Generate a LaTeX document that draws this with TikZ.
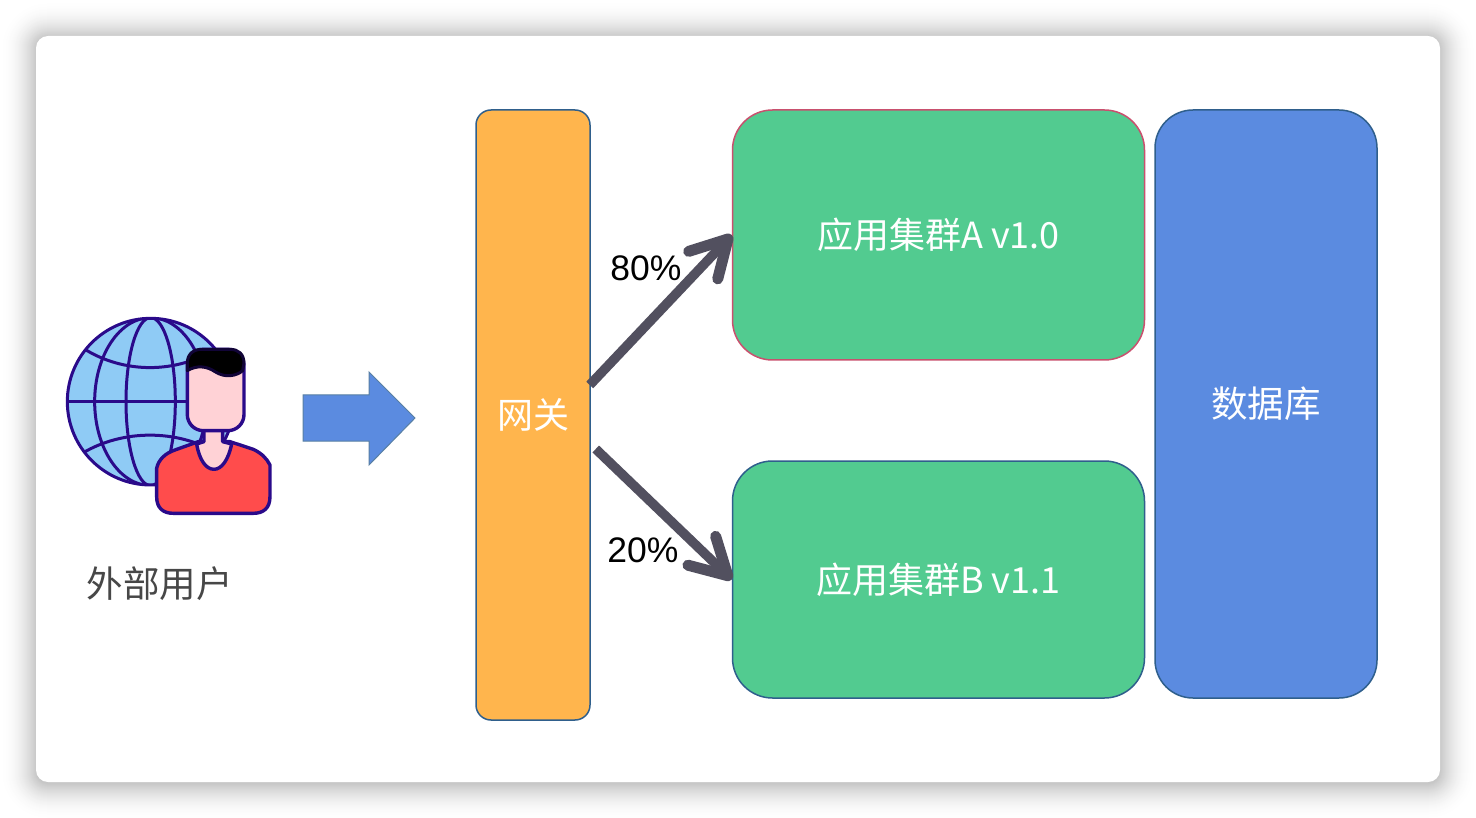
\documentclass[tikz,border=0pt]{standalone}
\usepackage{fontspec}
\setmainfont{Liberation Sans}
\newfontfamily\cjk{Noto Sans CJK SC}
\usetikzlibrary{arrows.meta,calc,shapes.arrows}
\definecolor{bordblue}{HTML}{2F5F8C}
\definecolor{iconline}{HTML}{2A0A8A}
\definecolor{globefill}{HTML}{8FCBF5}
\definecolor{skin}{HTML}{FFD2D6}
\definecolor{shirt}{HTML}{FF4C4C}
\definecolor{orangebox}{HTML}{FFB54D}
\definecolor{greenbox}{HTML}{52CB90}
\definecolor{bluebox}{HTML}{5B8BE0}
\definecolor{flowline}{HTML}{52505F}
\definecolor{pinkline}{HTML}{C9506E}
\tikzset{
  x=1pt,y=-1pt,
  box/.style={draw=bordblue,line width=1.5pt,inner sep=0pt,text=white,font=\cjk\fontsize{36}{36}\selectfont},
  flow/.style={draw=flowline,line width=9.5pt,-{Straight Barb[length=36pt,width=40pt,round,line width=11pt]}},
  pct/.style={font=\fontsize{35.5}{35.5}\selectfont,text=black,inner sep=0pt},
  icon/.style={draw=iconline,line width=3.4pt,line join=round},
  mini/.style={draw=iconline,line width=3pt},
}
\begin{document}
\begin{tikzpicture}
\useasboundingbox (0,0) rectangle (1476,818);
\fill[white] (0,0) rectangle (1476,818);
% window shadow
\foreach \d in {36,35,...,0}{
  \pgfmathsetmacro{\shade}{22*(1-\d/36)*(1-\d/36)}
  \fill[black!\shade!white,rounded corners=12pt+\d pt] (36-\d,37-\d) rectangle (1440+\d,784+\d);
}
\node[draw=none,fill=white,rounded corners=12pt,minimum width=1404pt,minimum height=746pt,inner sep=0pt] (card) at (738,409) {};

% boxes
\node[box,fill=orangebox,rounded corners=15pt,minimum width=114pt,minimum height=610pt] (gw) at (533,415) {网关};
\node[box,fill=greenbox,draw=pinkline,rounded corners=40pt,minimum width=412pt,minimum height=250pt] (appa) at (938.5,235) {{\cjk 应用集群}A v1.0};
\node[box,fill=greenbox,rounded corners=40pt,minimum width=412pt,minimum height=237pt] (appb) at (938.5,579.5) {{\cjk 应用集群}B v1.1};
\node[box,fill=bluebox,rounded corners=38pt,minimum width=222pt,minimum height=588pt] (db) at (1266,404) {};
\node[text=white,font=\cjk\fontsize{36.5}{36.5}\selectfont,inner sep=0pt] (dbl) at (db.center) {数据库};

% block arrow
\fill[bluebox] (303,395) -- (369,395) -- (369,372) -- (415,418) -- (369,465) -- (369,441) -- (303,441) -- cycle;
\draw[bordblue!80,line width=1pt] (303,395) -- (369,395) -- (369,372) -- (415,418) -- (369,465) -- (369,441) -- (303,441) -- cycle;

% flow arrows
\coordinate (ga) at ($(gw.east)+(-1,-30)$);
\coordinate (gb) at ($(gw.east)+(5,34)$);
\draw[flow] (ga) -- (appa.west);
\draw[flow] (gb) -- (appb.west);
\node[pct] (p80) at (646,268) {80\%};
\node[pct] (p20) at (643,550) {20\%};

% user icon (coordinates of a 3x enlargement)
\begin{scope}[shift={(50,300)},x=0.3333pt,y=-0.3333pt]
  \coordinate (gc) at (302,305);
  \fill[globefill] (gc) circle[radius=250];
  \begin{scope}
    \clip (gc) circle[radius=250];
    \draw[mini] (gc) ellipse[x radius=168,y radius=252];
    \draw[mini] (gc) ellipse[x radius=74,y radius=252];
    \draw[mini] (40,305) -- (560,305);
    \draw[mini] (100,145) .. controls (220,222) and (380,222) .. (500,145);
    \draw[mini] (100,458) .. controls (220,388) and (380,388) .. (500,458);
  \end{scope}
  \draw[mini] (gc) circle[radius=250];
  % body
  \draw[icon,fill=shirt] (320,505) .. controls (325,480) and (345,460) .. (375,450)
     -- (445,425) -- (540,425) -- (610,448) .. controls (635,460) and (650,475) .. (660,495)
     -- (660,590) .. controls (660,625) and (640,640) .. (610,640)
     -- (370,640) .. controls (340,640) and (320,625) .. (320,590) -- cycle;
  % neck
  \fill[skin] (462,385) -- (518,385) -- (518,425) -- (545,432) .. controls (535,480) and (515,508) .. (492,508)
     .. controls (468,508) and (448,480) .. (440,432) -- (462,425) -- cycle;
  \draw[icon] (462,395) -- (462,425) -- (440,432) .. controls (448,480) and (468,508) .. (492,508)
     .. controls (515,508) and (535,480) .. (545,432) -- (518,425) -- (518,395);
  % head
  \draw[icon,fill=skin,rounded corners=16pt] (412,148) rectangle (582,392);
  % hair
  \fill[black,draw=black!60!iconline,line width=3pt,line join=round] (412,212) -- (412,190) .. controls (412,162) and (430,148) .. (455,148)
     -- (540,148) .. controls (565,148) and (582,162) .. (582,190) -- (578,212)
     .. controls (560,228) and (525,235) .. (495,215) .. controls (470,198) and (440,195) .. (412,212) -- cycle;
\end{scope}
\node[font=\cjk\fontsize{36.5}{36.5}\selectfont,text=black!72,inner sep=0pt] (user) at (159.5,584) {外部用户};
\end{tikzpicture}
\end{document}
